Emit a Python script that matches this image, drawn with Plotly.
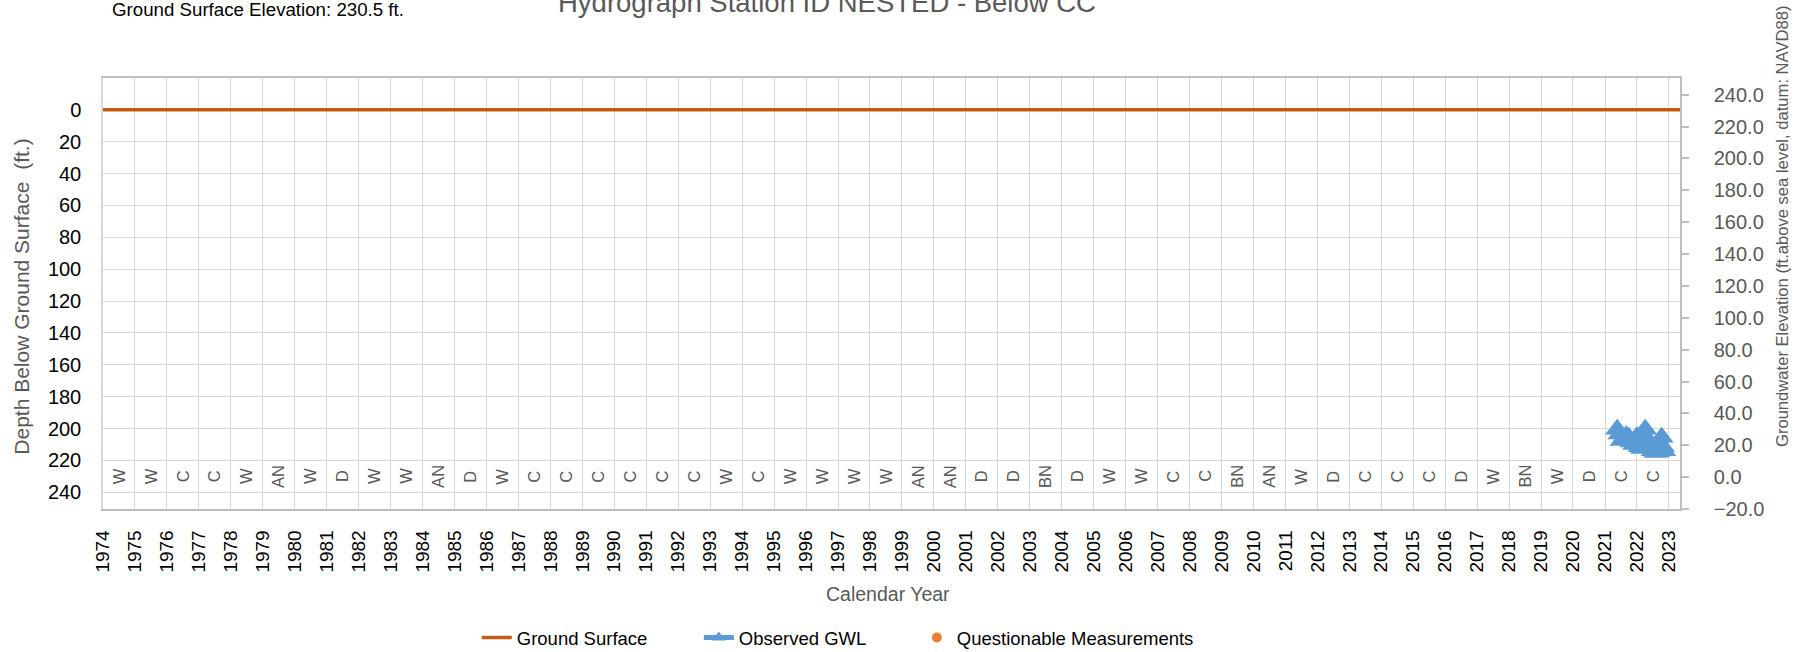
import plotly.graph_objects as go

# --- data ---
ground_elev = 230.5
years = list(range(1974, 2024))
water_year_types = ['W', 'W', 'C', 'C', 'W', 'AN', 'W', 'D', 'W', 'W', 'AN', 'D', 'W',
                    'C', 'C', 'C', 'C', 'C', 'C', 'W', 'C', 'W', 'W', 'W', 'W', 'AN',
                    'AN', 'D', 'D', 'BN', 'D', 'W', 'W', 'C', 'C', 'BN', 'AN', 'W', 'D',
                    'C', 'C', 'C', 'D', 'W', 'BN', 'W', 'D', 'C', 'C']

gwl_dates = ['2021-05-20', '2021-06-15', '2021-07-10', '2021-08-05', '2021-09-01',
             '2021-10-01', '2021-11-01', '2021-12-01', '2022-01-01', '2022-02-01',
             '2022-03-01', '2022-04-05', '2022-05-01', '2022-06-01', '2022-07-01',
             '2022-08-01', '2022-09-01', '2022-10-10', '2022-10-25', '2022-11-08']
gwl_elev = [30.0, 27.0, 23.0, 24.5, 26.0, 25.0, 22.0, 20.5, 25.5, 19.0,
            18.0, 30.0, 24.0, 19.0, 16.5, 15.5, 16.0, 25.0, 19.0, 16.5]

# plot area in pixels
W, H = 1809, 652
L, R, T, B = 103.3, 1680, 78, 509
pw, ph = R - L, B - T

def px(x):
    return (x - L) / pw

def py(y):
    return (B - y) / ph

GRAY = '#595959'
FONT = 'Liberation Sans'

fig = go.Figure()

fig.add_trace(go.Scatter(
    x=['1973-06-01', '2023-12-31'], y=[0, 0],
    mode='lines', name='Ground Surface',
    line=dict(color='#C55A11', width=3.5),
    yaxis='y', legend='legend'
))

fig.add_trace(go.Scatter(
    x=gwl_dates, y=gwl_elev,
    mode='lines+markers', name='Observed GWL',
    line=dict(color='#5B9BD5', width=2.5),
    marker=dict(symbol='triangle-up', size=21, color='#5B9BD5'),
    yaxis='y2', legend='legend2'
))

fig.add_trace(go.Scatter(
    x=[None], y=[None],
    mode='markers', name='Questionable Measurements',
    marker=dict(symbol='circle', size=10, color='#ED7D31'),
    yaxis='y2', legend='legend3'
))

annotations = []
for yr, wt in zip(years[:-1], water_year_types):
    annotations.append(dict(
        x=f'{yr}-07-02', y=230, xref='x', yref='y',
        text=wt, showarrow=False, textangle=-90,
        xanchor='center', yanchor='middle',
        font=dict(size=16.5, color=GRAY, family=FONT)
    ))

annotations += [
    dict(x=px(827), y=py(2), xref='paper', yref='paper', xanchor='center', yanchor='middle',
         text='Hydrograph Station ID NESTED - Below CC', showarrow=False,
         font=dict(size=27.5, color=GRAY, family=FONT)),
    dict(x=px(110), y=py(9.5), xref='paper', yref='paper', xanchor='left', yanchor='middle',
         text='Ground Surface Elevation: 230.5 ft.', showarrow=False,
         font=dict(size=18.7, color='black', family=FONT)),
    dict(x=px(888), y=py(594), xref='paper', yref='paper', xanchor='center', yanchor='middle',
         text='Calendar Year', showarrow=False,
         font=dict(size=19.5, color=GRAY, family=FONT)),
    dict(x=px(21), y=py(297), xref='paper', yref='paper', xanchor='center', yanchor='middle',
         text='Depth Below Ground Surface  (ft.)', showarrow=False, textangle=-90,
         font=dict(size=21, color=GRAY, family=FONT)),
    dict(x=px(1782), y=py(226), xref='paper', yref='paper', xanchor='center', yanchor='middle',
         text='Groundwater Elevation (ft.above sea level, datum: NAVD88)',
         showarrow=False, textangle=-90,
         font=dict(size=16.6, color=GRAY, family=FONT)),
]

leg_font = dict(size=18.5, color='black', family=FONT)
leg_y = py(638)

fig.update_layout(
    width=W, height=H,
    margin=dict(l=L, r=W - R, t=T, b=H - B, autoexpand=False),
    paper_bgcolor='white', plot_bgcolor='white',
    font=dict(family=FONT),
    showlegend=True,
    legend=dict(x=px(477), xanchor='left', y=leg_y, yanchor='middle',
                font=leg_font, bgcolor='rgba(0,0,0,0)'),
    legend2=dict(x=px(699), xanchor='left', y=leg_y, yanchor='middle',
                 font=leg_font, bgcolor='rgba(0,0,0,0)', itemsizing='constant'),
    legend3=dict(x=px(917), xanchor='left', y=leg_y, yanchor='middle',
                 font=leg_font, bgcolor='rgba(0,0,0,0)'),
    xaxis=dict(
        type='date', range=['1974-01-01', '2023-05-08'],
        tickvals=[f'{y}-01-01' for y in years],
        ticktext=[str(y) for y in years],
        tickangle=-90, tickfont=dict(size=19, color='black', family=FONT),
        ticklabelstandoff=12,
        showgrid=True, gridcolor='#D9D9D9', gridwidth=1.3,
        showline=True, linecolor='#BFBFBF', linewidth=1.5, mirror=True,
        zeroline=False
    ),
    yaxis=dict(
        range=[250.5, -20],
        tickvals=list(range(0, 241, 20)),
        tickfont=dict(size=20, color='black', family=FONT),
        ticklabelstandoff=16,
        showgrid=True, gridcolor='#D9D9D9', gridwidth=1.3,
        showline=True, linecolor='#D9D9D9', linewidth=1.5,
        zeroline=False
    ),
    yaxis2=dict(
        overlaying='y', side='right',
        range=[-20, 250.5],
        tickvals=list(range(-20, 241, 20)),
        tickformat='.1f',
        tickfont=dict(size=20, color=GRAY, family=FONT),
        ticks='outside', ticklen=7, tickcolor='#BFBFBF', tickwidth=1.5,
        ticklabelstandoff=21,
        showgrid=False, zeroline=False,
        showline=True, linecolor='#BFBFBF', linewidth=1.5
    ),
    annotations=annotations
)

# drop the default page margin so the figure sits at the window corner
fig.write_html("out.html", config={'displayModeBar': False},
               post_script="document.body.style.margin='0';")
